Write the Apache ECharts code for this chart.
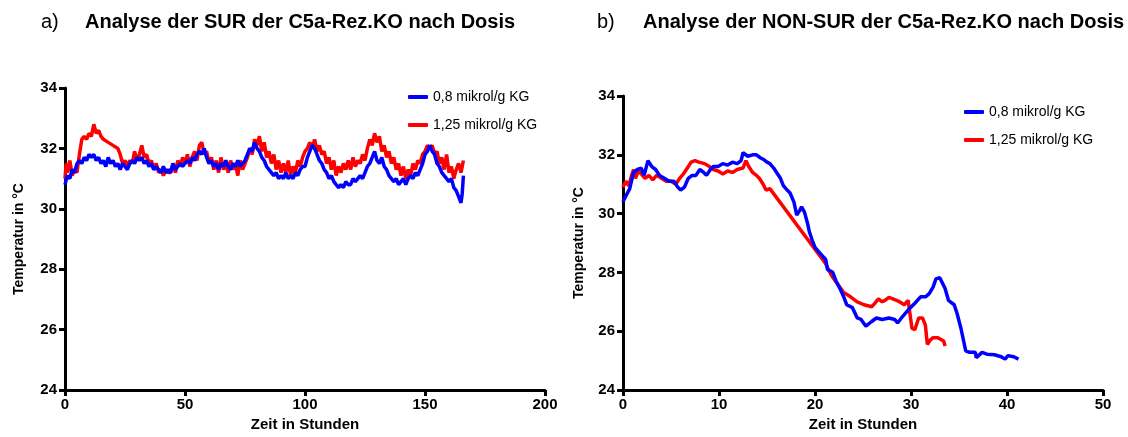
<!DOCTYPE html>
<html><head><meta charset="utf-8">
<script src="https://cdn.jsdelivr.net/npm/echarts@6/dist/echarts.min.js"></script>
<style>html,body{margin:0;padding:0;background:#fff}#c{width:1128px;height:437px}</style>
</head><body><div id="c"></div>
<script>
// Panel a) SUR: [Zeit in Stunden, Temperatur °C]
const surBlue = [[0,30.8],[1,31.1],[2,31.0],[3,31.3],[4,31.2],[5,31.5],[6,31.6],[7,31.5],[8,31.7],[9,31.6],[10,31.8],[11,31.7],[12,31.8],[13,31.6],[14,31.7],[15,31.5],[16,31.6],[17,31.4],[18,31.7],[19,31.5],[20,31.6],[21,31.4],[22,31.5],[23,31.3],[24,31.5],[25,31.4],[26,31.3],[27,31.5],[28,31.6],[29,31.5],[30,31.7],[31,31.6],[32,31.7],[33,31.5],[34,31.6],[35,31.4],[36,31.5],[37,31.3],[38,31.4],[39,31.3],[40,31.2],[41,31.4],[42,31.2],[43,31.3],[44,31.2],[45,31.5],[46,31.3],[47,31.4],[48,31.5],[49,31.4],[50,31.5],[51,31.6],[52,31.5],[53,31.7],[54,31.6],[55,31.8],[56,31.9],[57,31.8],[58,32.0],[59,31.7],[60,31.5],[61,31.6],[62,31.4],[63,31.5],[64,31.3],[65,31.5],[66,31.4],[67,31.6],[68,31.4],[69,31.3],[70,31.5],[71,31.4],[72,31.6],[73,31.4],[74,31.5],[75,31.6],[76,31.8],[77,32.0],[78,31.9],[79,32.2],[80,32.0],[81,31.9],[82,31.7],[83,31.6],[84,31.4],[85,31.3],[86,31.2],[87,31.1],[88,31.2],[89,31.0],[90,31.1],[91,31.0],[92,31.2],[93,31.0],[94,31.1],[95,31.0],[96,31.2],[97,31.1],[98,31.3],[99,31.4],[100,31.4],[101,31.7],[102,31.9],[103,32.1],[104,32.0],[105,31.8],[106,31.6],[107,31.5],[108,31.3],[109,31.2],[110,31.0],[111,31.1],[112,30.9],[113,30.8],[114,30.7],[115,30.8],[116,30.7],[117,30.9],[118,30.8],[119,30.8],[120,31.0],[121,30.9],[122,31.0],[123,31.1],[124,31.0],[125,31.2],[126,31.4],[127,31.5],[128,31.7],[129,31.9],[130,31.6],[131,31.5],[132,31.7],[133,31.4],[134,31.3],[135,31.1],[136,31.0],[137,30.9],[138,31.0],[139,30.8],[140,30.9],[141,31.0],[142,30.8],[143,31.0],[144,31.1],[145,31.0],[146,31.2],[147,31.1],[148,31.3],[149,31.5],[150,31.8],[151,31.9],[152,32.1],[153,31.9],[154,31.8],[155,31.5],[156,31.4],[157,31.2],[158,31.1],[159,31.0],[160,30.9],[161,31.0],[162,30.7],[163,30.6],[164,30.4],[165,30.2],[165.5,30.5],[166,31.1]];
const surRed = [[0,31.0],[0.5,31.5],[1,31.2],[2,31.6],[3,31.1],[4,31.3],[5,31.2],[6,31.8],[7,32.3],[8,32.4],[9,32.3],[10,32.5],[11,32.4],[12,32.8],[13,32.5],[14,32.6],[15,32.4],[16,32.3],[18,32.2],[20,32.1],[22,32.0],[23,31.8],[24,31.5],[25,31.6],[26,31.4],[27,31.6],[28,31.5],[29,31.9],[30,31.6],[31,31.8],[32,32.1],[33,31.7],[34,31.8],[35,31.5],[36,31.6],[37,31.3],[38,31.5],[39,31.2],[40,31.3],[41,31.1],[42,31.3],[43,31.2],[44,31.2],[45,31.5],[46,31.2],[47,31.6],[48,31.4],[49,31.7],[50,31.5],[51,31.8],[52,31.4],[53,31.7],[54,31.9],[55,31.6],[56,32.1],[57,32.2],[58,31.8],[59,31.9],[60,31.5],[61,31.7],[62,31.3],[63,31.6],[64,31.2],[65,31.7],[66,31.3],[67,31.5],[68,31.2],[69,31.6],[70,31.3],[71,31.5],[72,31.1],[73,31.6],[74,31.3],[75,31.5],[76,31.7],[77,32.0],[78,31.8],[79,32.3],[80,32.1],[81,32.4],[82,31.9],[83,32.2],[84,31.7],[85,31.9],[86,31.5],[87,31.8],[88,31.3],[89,31.6],[90,31.2],[91,31.5],[92,31.2],[93,31.6],[94,31.1],[95,31.4],[96,31.2],[97,31.6],[98,31.4],[99,31.7],[100,31.9],[101,32.0],[102,32.2],[103,32.0],[104,32.3],[105,31.9],[106,32.1],[107,31.8],[108,31.9],[109,31.5],[110,31.7],[111,31.3],[112,31.6],[113,31.1],[114,31.4],[115,31.2],[116,31.5],[117,31.3],[118,31.6],[119,31.3],[120,31.7],[121,31.4],[122,31.6],[123,31.5],[124,31.8],[125,31.6],[126,32.0],[127,32.3],[128,32.1],[129,32.5],[130,32.2],[131,32.4],[132,31.9],[133,32.1],[134,31.7],[135,31.9],[136,31.5],[137,31.7],[138,31.3],[139,31.5],[140,31.1],[141,31.4],[142,31.0],[143,31.3],[144,31.1],[145,31.5],[146,31.3],[147,31.6],[148,31.5],[149,31.8],[150,31.9],[151,32.1],[152,32.0],[153,32.1],[154,31.8],[155,31.9],[156,31.5],[157,31.7],[158,31.3],[159,31.8],[160,31.2],[161,31.4],[162,31.0],[163,31.3],[164,31.5],[165,31.2],[166,31.6]];
// Panel b) NON-SUR
const nonBlue = [[0,30.4],[0.3,30.6],[0.7,30.85],[1.1,31.4],[1.5,31.5],[1.9,31.55],[2.2,31.3],[2.6,31.8],[3.0,31.6],[3.4,31.5],[3.8,31.3],[4.3,31.2],[4.8,31.1],[5.3,31.1],[5.7,30.9],[6.0,30.8],[6.4,30.9],[6.8,31.2],[7.2,31.3],[7.6,31.3],[8.0,31.5],[8.4,31.4],[8.7,31.3],[9.1,31.5],[9.4,31.6],[9.9,31.6],[10.4,31.7],[10.9,31.65],[11.4,31.75],[11.9,31.7],[12.3,31.8],[12.5,32.07],[13.0,31.95],[13.5,32.0],[13.9,32.0],[14.3,31.9],[14.6,31.85],[15.0,31.75],[15.3,31.7],[15.7,31.55],[16.0,31.4],[16.4,31.2],[16.7,30.95],[17.1,30.8],[17.4,30.7],[17.8,30.4],[18.1,29.95],[18.4,30.1],[18.6,30.23],[18.9,30.05],[19.2,29.7],[19.4,29.4],[19.7,29.1],[20.0,28.85],[20.4,28.7],[20.8,28.55],[21.1,28.45],[21.3,28.1],[21.85,28.0],[22.2,27.7],[22.6,27.45],[22.95,27.2],[23.3,26.9],[23.9,26.8],[24.4,26.45],[24.8,26.4],[25.3,26.17],[25.9,26.33],[26.4,26.45],[27.0,26.4],[27.7,26.45],[28.3,26.4],[28.6,26.28],[29.0,26.45],[29.7,26.72],[30.4,26.95],[31.0,27.17],[31.5,27.17],[31.9,27.28],[32.3,27.5],[32.6,27.78],[33.0,27.82],[33.2,27.78],[33.55,27.45],[33.9,27.05],[34.5,26.9],[34.8,26.6],[35.2,26.1],[35.7,25.33],[36.1,25.28],[36.7,25.28],[36.8,25.1],[37.4,25.28],[37.9,25.22],[38.7,25.2],[39.4,25.13],[39.8,25.05],[40.1,25.17],[40.7,25.13],[41.2,25.05]];
const nonRed = [[0,30.9],[0.3,31.1],[0.6,30.95],[0.9,31.3],[1.1,31.5],[1.3,31.2],[1.6,31.45],[1.9,31.35],[2.3,31.2],[2.7,31.3],[3.1,31.15],[3.5,31.3],[4.0,31.2],[4.5,31.1],[5.0,31.1],[5.5,31.0],[5.9,31.2],[6.3,31.35],[6.7,31.55],[7.1,31.75],[7.5,31.8],[7.9,31.75],[8.5,31.7],[9.0,31.6],[9.4,31.5],[9.9,31.45],[10.4,31.35],[10.9,31.45],[11.4,31.4],[11.9,31.5],[12.5,31.55],[12.8,31.8],[13.1,31.6],[13.5,31.4],[13.9,31.3],[14.2,31.2],[14.6,31.0],[14.9,30.8],[15.3,30.85],[21.1,28.3],[21.7,27.9],[22.2,27.67],[22.95,27.33],[23.7,27.17],[24.4,27.0],[25.1,26.9],[25.9,26.83],[26.2,26.94],[26.6,27.1],[27.0,27.0],[27.3,27.05],[27.7,27.15],[28.1,27.1],[28.5,27.05],[28.8,27.0],[29.3,26.9],[29.7,27.05],[29.9,27.0],[30.1,26.1],[30.4,26.05],[30.8,26.45],[31.2,26.45],[31.5,26.2],[31.7,25.55],[32.0,25.7],[32.3,25.78],[32.8,25.78],[33.4,25.67],[33.55,25.5]];
const seriesNames = ['0,8 mikrol/g KG','1,25 mikrol/g KG'];
const panelLabels = ['a)','b)'];
const panelTitles = ['Analyse der SUR der C5a-Rez.KO nach Dosis','Analyse der NON-SUR der C5a-Rez.KO nach Dosis'];
const xName = 'Zeit in Stunden';
const yName = 'Temperatur in °C';

const FONT = 'Liberation Sans, Arial, sans-serif';
const BLUE = '#0000ff', RED = '#ff0000';
const chart = echarts.init(document.getElementById('c'), null, {renderer:'canvas'});

function xAxis(gi, max, interval){
  return {type:'value', gridIndex:gi, min:0, max:max, interval:interval,
    name:xName, nameLocation:'middle', nameGap:27,
    nameTextStyle:{fontFamily:FONT, fontWeight:'bold', fontSize:15, color:'#000'},
    axisLine:{onZero:false, lineStyle:{color:'#000', width:3}},
    axisTick:{inside:false, length:6, lineStyle:{color:'#000', width:3}},
    axisLabel:{margin:7, fontFamily:FONT, fontWeight:'bold', fontSize:15, color:'#000'},
    splitLine:{show:false}};
}
function yAxis(gi, gap){
  return {type:'value', gridIndex:gi, min:24, max:34, interval:2,
    name:yName, nameLocation:'middle', nameGap:gap, nameRotate:90,
    nameTextStyle:{fontFamily:FONT, fontWeight:'bold', fontSize:14, color:'#000'},
    axisLine:{show:true, onZero:false, lineStyle:{color:'#000', width:3}},
    axisTick:{show:true, inside:false, length:6, lineStyle:{color:'#000', width:3}},
    axisLabel:{margin:8, fontFamily:FONT, fontWeight:'bold', fontSize:15, color:'#000'},
    splitLine:{show:false}};
}
function line(name, data, color, xi){
  return {type:'line', name:name, data:data, xAxisIndex:xi, yAxisIndex:xi,
    showSymbol:false, symbol:'none', lineStyle:{color:color, width:3.5}, itemStyle:{color:color},
    animation:false, z:color===BLUE?3:2};
}
const legendCommon = {orient:'vertical', icon:'roundRect', itemWidth:20, itemHeight:4, itemGap:14,
  textStyle:{fontFamily:FONT, fontSize:14, color:'#000'}, data:[
    {name:seriesNames[0], itemStyle:{color:BLUE}},
    {name:seriesNames[1], itemStyle:{color:RED}}], selectedMode:false};

chart.setOption({
  animation:false,
  backgroundColor:'#fff',
  title:[
    {text:panelLabels[0], left:36, top:7, textStyle:{fontFamily:FONT, fontWeight:'normal', fontSize:20, color:'#000'}},
    {text:panelTitles[0], left:80, top:7, textStyle:{fontFamily:FONT, fontWeight:'bold', fontSize:20, color:'#000'}},
    {text:panelLabels[1], left:592, top:7, textStyle:{fontFamily:FONT, fontWeight:'normal', fontSize:20, color:'#000'}},
    {text:panelTitles[1], left:638, top:7, textStyle:{fontFamily:FONT, fontWeight:'bold', fontSize:20, color:'#000'}}
  ],
  legend:[
    Object.assign({left:403, top:85}, legendCommon),
    Object.assign({left:959, top:100}, legendCommon)
  ],
  grid:[
    {left:65, right:583, top:88, bottom:44, containLabel:false},
    {left:623, right:25, top:96, bottom:43, containLabel:false}
  ],
  xAxis:[xAxis(0,200,50), xAxis(1,50,10)],
  yAxis:[yAxis(0,39), yAxis(1,37)],
  series:[
    line(seriesNames[1], surRed, RED, 0),
    line(seriesNames[0], surBlue, BLUE, 0),
    line(seriesNames[1], nonRed, RED, 1),
    line(seriesNames[0], nonBlue, BLUE, 1)
  ]
});
</script></body></html>
